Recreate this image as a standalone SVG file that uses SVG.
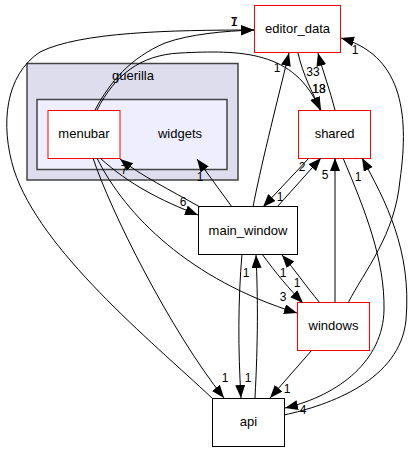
<svg xmlns="http://www.w3.org/2000/svg" width="414" height="452" viewBox="0 0 414 452">
<style>
text{font-family:"Liberation Sans",Arial,sans-serif;fill:#000;text-anchor:middle}
.n{font-size:13px}
.l{font-size:12px}
.red{fill:#fff;stroke:#ff0000;stroke-width:1}
.blk{fill:#fff;stroke:#000;stroke-width:1}
.e{fill:none;stroke:#000;stroke-width:1;marker-end:url(#ah)}
</style>
<defs>
<marker id="ah" markerUnits="userSpaceOnUse" markerWidth="14" markerHeight="11" refX="13" refY="5" orient="auto"><path d="M0,0 L13,5 L0,10 z" fill="#000"/></marker>
</defs>
<rect width="414" height="452" fill="#fff"/>
<g id="cluster_guerilla">
<rect x="27" y="63.5" width="211" height="116.5" fill="#ddddee" stroke="#444" stroke-width="1.5"/>
<text class="n" x="133" y="80">guerilla</text>
</g>
<g id="cluster_widgets">
<rect x="37" y="99.5" width="190" height="70" fill="#eeeeff" stroke="#444" stroke-width="1.5"/>
<text class="n" x="180" y="138">widgets</text>
</g>
<g id="node_menubar">
<rect class="red" x="48" y="110.5" width="72" height="48"/>
<text class="n" x="84" y="138">menubar</text>
</g>
<g id="node_editor_data">
<rect class="red" x="254.5" y="5.5" width="86" height="47"/>
<text class="n" x="297.5" y="33">editor_data</text>
</g>
<g id="node_shared">
<rect class="red" x="298.5" y="110.5" width="72" height="48"/>
<text class="n" x="334.5" y="138">shared</text>
</g>
<g id="node_main_window">
<rect class="blk" x="198.5" y="206.5" width="99" height="48"/>
<text class="n" x="248" y="235">main_window</text>
</g>
<g id="node_windows">
<rect class="red" x="297.5" y="302.5" width="72" height="48"/>
<text class="n" x="333.5" y="330">windows</text>
</g>
<g id="node_api">
<rect class="blk" x="212.5" y="398.5" width="72" height="48"/>
<text class="n" x="248.5" y="426">api</text>
</g>
<g id="connectors">
<path class="e" d="M212,398 C150,340 40,250 14,170 C0,125 5,75 40,52 C80,32 170,30 254,30"/>
<path class="e" d="M95,110 C110,82 130,58 165,43 C190,34 225,31 254,30"/>
<path class="e" d="M97,110 C115,75 140,55 180,53 C240,50 295,50 320,110"/>
<path class="e" d="M253,207 C260,170 275,110 289,53"/>
<path class="e" d="M298,53 C303,75 312,92 321,110"/>
<path class="e" d="M335,110 C330,90 323,72 318,53"/>
<path class="e" d="M348,303 C365,270 395,235 400,180 C410,110 400,55 341,38"/>
<path class="e" d="M277,207 L321,158"/>
<path class="e" d="M309,158 L263,207"/>
<path class="e" d="M335,303 L335,158"/>
<path class="e" d="M284,415 C330,405 400,380 406,320 C412,250 385,200 362,158"/>
<path class="e" d="M343,158 C365,210 385,260 384,310 C383,360 340,395 285,408"/>
<path class="e" d="M100,158 C130,185 160,200 198,215"/>
<path class="e" d="M200,207 C170,190 140,175 120,159"/>
<path class="e" d="M232,207 L197,159"/>
<path class="e" d="M97,158 C125,215 190,280 297,313"/>
<path class="e" d="M93,158 C110,210 170,330 224,398"/>
<path class="e" d="M242,254 C238,300 238,350 241,398"/>
<path class="e" d="M255,398 C258,340 258,300 256,255"/>
<path class="e" d="M262,254 C275,272 290,290 303,303"/>
<path class="e" d="M320,303 C305,285 295,270 282,255"/>
<path class="e" d="M312,350 L270,398"/>
<text class="l" x="234" y="26">1</text>
<text class="l" x="234" y="26">7</text>
<text class="l" x="277" y="72">1</text>
<text class="l" x="313" y="76">33</text>
<text class="l" x="319" y="93">13</text>
<text class="l" x="319" y="93">18</text>
<text class="l" x="355" y="54">1</text>
<text class="l" x="302" y="171">2</text>
<text class="l" x="325" y="179">5</text>
<text class="l" x="358" y="181">1</text>
<text class="l" x="280" y="201">1</text>
<text class="l" x="183" y="206">6</text>
<text class="l" x="124" y="174">7</text>
<text class="l" x="200" y="181">1</text>
<text class="l" x="246" y="277">1</text>
<text class="l" x="283" y="277">1</text>
<text class="l" x="297" y="287">1</text>
<text class="l" x="283" y="301">3</text>
<text class="l" x="225" y="382">1</text>
<text class="l" x="248" y="382">1</text>
<text class="l" x="287" y="393">1</text>
<text class="l" x="303" y="414">4</text>
</g>
</svg>
